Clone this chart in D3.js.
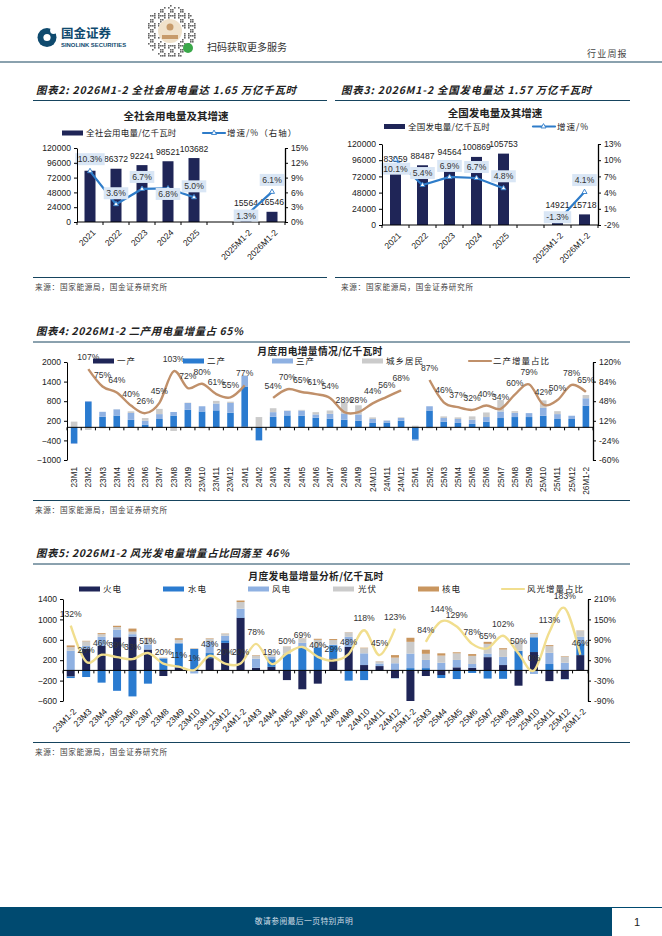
<!DOCTYPE html>
<html><head><meta charset="utf-8">
<script src="https://cdn.jsdelivr.net/npm/d3@7/dist/d3.min.js"></script>
<style>
html,body{margin:0;padding:0;background:#fff}
svg{display:block}
text{font-family:"Liberation Sans",Arial,sans-serif;fill:#222}
.cjk{font-family:"Noto Sans CJK SC","Noto Sans",sans-serif}
</style></head><body><svg id="c" width="662" height="936"></svg>
<script>
// ---- chart 2 / 3 data
const yearCats=["2021","2022","2023","2024","2025","","2025M1-2","2026M1-2"];
const useVals=[83128,86372,92241,98521,103682,null,15564,16546];
const useGrow=[10.3,3.6,6.7,6.8,5.0,null,1.3,6.1];
const genVals=[83959,88487,94564,100869,105753,null,14921,15718];
const genGrow=[10.1,5.4,6.9,6.7,4.8,null,-1.3,4.1];
// ---- chart 4 data
const m4=["23M1","23M2","23M3","23M4","23M5","23M6","23M7","23M8","23M9","23M10","23M11","23M12","24M1","24M2","24M3","24M4","24M5","24M6","24M7","24M8","24M9","24M10","24M11","24M12","25M1","25M2","25M3","25M4","25M5","25M6","25M7","25M8","25M9","25M10","25M11","25M12","26M1-2"];
const primary=[5,5,5,10,10,5,5,10,5,5,10,5,20,5,5,5,5,5,5,5,5,5,5,5,-5,5,5,5,5,5,5,5,5,5,5,5,10];
const secondary=[-480,770,320,350,220,80,250,350,530,480,510,440,1230,-400,320,360,350,290,260,230,200,130,140,200,-370,510,170,130,100,170,280,310,310,350,250,250,650];
const tertiary=[-30,30,150,190,210,120,150,110,210,160,210,300,330,10,140,140,160,100,150,190,190,120,60,80,-30,130,110,120,130,140,200,130,120,240,150,100,230];
const resident=[170,-80,-30,5,50,80,160,-110,10,-30,80,40,10,300,120,10,20,70,100,360,280,50,10,20,50,-30,50,50,100,140,350,50,-20,230,90,-20,100];
const shareSecond=[null,107,75,64,40,26,45,103,72,80,61,55,77,null,54,70,65,61,54,28,28,44,56,68,null,87,46,37,32,40,34,60,79,42,50,78,65];
// ---- chart 5 data
const m5=["23M1-2","23M3","23M4","23M5","23M6","23M7","23M8","23M9","23M10","23M11","23M12","24M1-2","24M3","24M4","24M5","24M6","24M7","24M8","24M9","24M10","24M11","24M12","25M1-2","25M3","25M4","25M5","25M6","25M7","25M8","25M9","25M10","25M11","25M12","26M1-2"];
const thermal=[-120,420,480,650,660,410,-110,60,-10,240,540,1030,50,70,-190,-370,-260,235,460,105,85,-150,-600,-110,-90,60,50,260,105,-300,360,-210,-170,300];
const hydro=[-30,-130,-240,-400,-510,-260,235,470,420,100,50,10,-10,150,320,460,450,260,-200,-190,-10,-5,45,45,-60,-170,-50,-160,-165,380,290,125,-5,230];
const wind=[385,60,180,150,50,100,5,10,-50,220,90,170,180,50,5,80,10,10,200,230,50,140,285,160,150,145,75,70,160,5,-70,220,150,130];
const solar=[70,90,50,50,50,110,5,60,10,60,40,130,60,45,140,85,140,90,85,100,40,110,230,120,140,130,160,190,145,180,70,130,120,120];
const nuclear=[35,10,20,25,60,20,5,30,5,10,5,30,10,5,5,5,20,20,5,10,5,50,80,80,45,20,35,40,25,5,15,20,10,5];
const shareWindSolar=[132,26,46,39,33,51,20,11,1,43,20,20,78,19,50,69,40,29,48,118,45,123,null,84,144,129,78,65,102,50,0,113,183,46];
// ---- ticks
const tickUse=[0,24000,48000,72000,96000,120000];
const tickGrow2=[0,3,6,9,12,15];
const tickGrow3=[-2,1,4,7,10,13];
const tick4L=[-1000,-400,200,800,1400,2000];
const tick4R=[-60,-24,12,48,84,120];
const tick5L=[-600,-200,200,600,1000,1400];
const tick5R=[-90,-30,30,90,150,210];

const NAVY="#1f2557",BLUE="#2a7bd0",LIGHT="#8fb1e2",GRAY="#cbcbcb",TAN="#c9965f";
const TEAL="#0f4a6e",RULE="#16445e";
const svg=d3.select("#c");
const FS=8.6;

function txt(g,x,y,s,o={}){
  const t=g.append("text").attr("x",x).attr("y",y).text(s)
    .attr("class",o.cjk===false?null:"cjk").style("font-size",(o.size||8.5)+"px")
    .style("font-weight",o.bold?"700":"400").attr("text-anchor",o.anchor||"start");
  if(o.italic)t.style("font-style","italic");
  if(o.fill)t.style("fill",o.fill);
  if(o.ls)t.style("letter-spacing",o.ls+"px");
  if(o.len)t.attr("textLength",o.len).attr("lengthAdjust","spacing");
  return t;
}
function rule(x1,x2,y,w=1){svg.append("line").attr("x1",x1).attr("x2",x2).attr("y1",y).attr("y2",y).attr("stroke",RULE).attr("stroke-width",w)}
function fmtAxis(sel){
  sel.selectAll("text").style("font-size",FS+"px").style("font-family",'"Liberation Sans"').style("fill","#222");
  sel.selectAll("line,path").attr("stroke","#000");
}
function leftAxis(x,y,ticks){const g=svg.append("g").attr("transform",`translate(${x},0)`)
  .call(d3.axisLeft(y).tickValues(ticks).tickSize(3).tickSizeOuter(0).tickPadding(3).tickFormat(d3.format("d")));fmtAxis(g);return g}
function rightAxis(x,y,ticks){const g=svg.append("g").attr("transform",`translate(${x},0)`)
  .call(d3.axisRight(y).tickValues(ticks).tickSize(3).tickSizeOuter(0).tickPadding(3).tickFormat(d=>d+"%"));fmtAxis(g);g.select("path").attr("stroke-width",1.3);return g}
function baseline(g,y0,x,n){
  const b=x.step();
  g.append("line").attr("x1",x.range()[0]).attr("x2",x.range()[1]).attr("y1",y0).attr("y2",y0).attr("stroke","#000");
  d3.range(n+1).forEach(i=>g.append("line").attr("x1",x.range()[0]+i*b).attr("x2",x.range()[0]+i*b).attr("y1",y0).attr("y2",y0+3).attr("stroke","#000"));
}
function legRect(g,x,y,c,label,tx,o={}){g.append("rect").attr("x",x).attr("y",y-2.5).attr("width",21).attr("height",5).attr("fill",c);
  txt(g,tx,y+3,label,Object.assign({size:8.5,ls:1},o));}
function legLine(g,x,y,c,label,tx,w=2.2){g.append("line").attr("x1",x).attr("x2",x+22).attr("y1",y).attr("y2",y).attr("stroke",c).attr("stroke-width",w).attr("stroke-linecap","round");
  txt(g,tx,y+3,label,{size:8.5,ls:1});}

// ---- top band
const logo=svg.append("g");
logo.append("circle").attr("cx",47).attr("cy",37.5).attr("r",9.5).attr("fill",TEAL);
logo.append("circle").attr("cx",53.5).attr("cy",30.5).attr("r",3.4).attr("fill","#fff");
logo.append("circle").attr("cx",47).attr("cy",37.5).attr("r",3.6).attr("fill","#fff");
txt(logo,61,38,"国金证券",{size:12.5,bold:true,fill:TEAL});
txt(logo,61,46.5,"SINOLINK SECURITIES",{size:5.9,bold:true,fill:TEAL,cjk:false});
const qr=svg.append("g");
for(let i=-13;i<=13;i++)for(let j=-13;j<=13;j++){
  const r=Math.hypot(i,j); if(r>13||r<6.5)continue;
  if(((i*i*7+j*j*11+i*j*5+i*3+j)%5+5)%5<2)qr.append("rect").attr("x",170+i*2).attr("y",31+j*2).attr("width",1.6).attr("height",1.6).attr("fill","#666");
}
qr.append("circle").attr("cx",170).attr("cy",31).attr("r",12).attr("fill","#f0e2cb");
qr.append("circle").attr("cx",170).attr("cy",27).attr("r",3.5).attr("fill","#c79b6a");
qr.append("rect").attr("x",162).attr("y",35).attr("width",16).attr("height",4).attr("fill","#c79b6a");
qr.append("circle").attr("cx",188).attr("cy",48).attr("r",5).attr("fill","#3aa84a");
txt(svg,207,51,"扫码获取更多服务",{size:10,fill:"#333"});
txt(svg,587,57,"行业周报",{size:9,ls:1.2,fill:"#444"});
rule(0,662,62,1.2);

// ---- headings / rules
const HS=10.4;
txt(svg,36,94,"图表2: 2026M1-2 全社会用电量达 1.65 万亿千瓦时",{size:HS,bold:true,italic:true,len:260});
txt(svg,341,94,"图表3: 2026M1-2 全国发电量达 1.57 万亿千瓦时",{size:HS,bold:true,italic:true,len:250});
txt(svg,36,335,"图表4: 2026M1-2 二产用电量增量占 65%",{size:HS,bold:true,italic:true,len:207});
txt(svg,36,557,"图表5: 2026M1-2 风光发电量增量占比回落至 46%",{size:HS,bold:true,italic:true,len:253});
rule(33,327,100.5);rule(335,630,100.5);rule(33,327,277.5);rule(335,630,277.5);
rule(33,630,342);rule(33,630,500.5);rule(33,630,564);rule(33,630,742.5);
const src="来源：国家能源局，国金证券研究所";
txt(svg,35,290,src,{size:7.6,ls:.7,fill:"#444"});
txt(svg,341,290,src,{size:7.6,ls:.7,fill:"#444"});
txt(svg,35,513,src,{size:7.6,ls:.7,fill:"#444"});
txt(svg,35,755,src,{size:7.6,ls:.7,fill:"#444"});

// ---- chart 2 & 3
function barLine(o){
  const g=svg.append("g");
  const step=(o.xr[1]-o.xr[0])/o.cats.length;
  const x=d3.scaleBand().domain(d3.range(o.cats.length)).range(o.xr);
  const xc=i=>x(i)+x.step()/2;
  const y=d3.scaleLinear().domain([0,120000]).range(o.yr);
  const yR=d3.scaleLinear().domain(o.rd).range(o.yr);
  g.selectAll("rect.b").data(o.vals.map((v,i)=>[v,i]).filter(d=>d[0]!=null)).join("rect")
   .attr("x",d=>xc(d[1])-5.5).attr("width",11).attr("y",d=>y(d[0])).attr("height",d=>y(0)-y(d[0])).attr("fill",NAVY);
  o.vals.forEach((v,i)=>{if(v!=null&&!(o.covered||[]).includes(i))g.append("text").attr("x",xc(i)).attr("y",y(v)-6.5).attr("text-anchor","middle").style("font-size",FS+"px").text(v)});
  baseline(g,o.yr[0],{step:()=>step,range:()=>o.xr},o.cats.length);
  leftAxis(o.xr[0],y,tickUse);
  rightAxis(o.xr[1],yR,o.rt);
  o.cats.forEach((c,i)=>{if(c)g.append("text").attr("transform",`translate(${xc(i)+3},${o.yr[0]+8}) rotate(-45)`).attr("text-anchor","end").attr("dy","0.5em").style("font-size",FS+"px").text(c)});
  const line=d3.line().defined(d=>d[0]!=null).x(d=>xc(d[1])).y(d=>yR(d[0]));
  g.append("path").attr("d",line(o.grow.map((v,i)=>[v,i]))).attr("fill","none").attr("stroke","#2e7cc9").attr("stroke-width",2.2);
  o.grow.forEach((v,i)=>{if(v==null)return;
    g.append("path").attr("d",d3.symbol(d3.symbolTriangle,11)()).attr("transform",`translate(${xc(i)},${yR(v)})`).attr("fill","#fff").attr("stroke","#2e7cc9").attr("stroke-width",.9);});
  o.grow.forEach((v,i)=>{if(v==null)return;
    const d=o.dy[i], cy=yR(v)+d;
    const r=g.append("rect").attr("fill","#d9e6f5");
    const t=g.append("text").attr("x",xc(i)).attr("y",cy+3).attr("text-anchor","middle").style("font-size",FS+"px").style("fill","#333").text(v.toFixed(1)+"%");
    const w=t.node().getComputedTextLength()+5;
    r.attr("x",xc(i)-w/2).attr("y",cy-6).attr("width",w).attr("height",12);
  });
}
barLine({cats:yearCats,vals:useVals,grow:useGrow,xr:[77,285],yr:[222,148],rd:[0,15],rt:tickGrow2,dy:[-12,-11,-12,5.5,-11,0,0,-12],covered:[0]});
barLine({cats:yearCats,vals:genVals,grow:genGrow,xr:[382,598],yr:[225,144],rd:[-2,13],rt:tickGrow3,dy:[9,-12,-11,-11,-12,0,-4,-12]});
txt(svg,176,120,"全社会用电量及其增速",{size:10.5,bold:true,anchor:"middle"});
txt(svg,495,117,"全国发电量及其增速",{size:10.5,bold:true,anchor:"middle"});
const l2=svg.append("g");
legRect(l2,62,133,NAVY,"全社会用电量/亿千瓦时",86,{ls:.2});
legLine(l2,203,133,"#2e7cc9","增速/%（右轴）",227);
const l3=svg.append("g");
legRect(l3,384,126.5,NAVY,"全国发电量/亿千瓦时",408,{ls:.2});
legLine(l3,533,126.5,"#2e7cc9","增速/%",557);
[[214,133],[543.5,126.5]].forEach(p=>svg.append("path").attr("d",d3.symbol(d3.symbolTriangle,11)()).attr("transform",`translate(${p[0]},${p[1]})`).attr("fill","#fff").attr("stroke","#2e7cc9").attr("stroke-width",.9));

// ---- stacked + smooth line charts
function stacked(o){
  const g=svg.append("g");
  const rows=o.cats.map((cat,i)=>{const r={cat};o.keys.forEach((k,j)=>r[k]=o.series[j][i]);return r});
  const st=d3.stack().keys(o.keys).offset(d3.stackOffsetDiverging)(rows);
  const x=d3.scaleBand().domain(o.cats).range(o.xr);
  const y=d3.scaleLinear().domain(o.ld).range(o.yr);
  const yR=d3.scaleLinear().domain(o.rd).range(o.yr);
  st.forEach((s,j)=>{
    g.selectAll(null).data(s).join("rect")
     .attr("x",d=>x(d.data.cat)+(x.step()-o.bw)/2).attr("width",o.bw)
     .attr("y",d=>y(d[1])).attr("height",d=>Math.abs(y(d[0])-y(d[1]))).attr("fill",o.colors[j]);
  });
  baseline(g,y(0),{step:()=>x.step(),range:()=>o.xr},o.cats.length);
  leftAxis(o.xr[0],y,o.lt);
  rightAxis(o.xr[1],yR,o.rt);
  const cx=i=>x(o.cats[i])+x.step()/2;
  const line=d3.line().defined(d=>d[0]!=null).x(d=>cx(d[1])).y(d=>yR(d[0])).curve(d3.curveCardinal.tension(0));
  g.append("path").attr("d",line(o.share.map((v,i)=>[v,i]))).attr("fill","none").attr("stroke",o.lineColor).attr("stroke-width",2.4);
  o.share.forEach((v,i)=>{if(v==null)return;
    g.append("text").attr("x",cx(i)).attr("y",yR(v)-9).attr("text-anchor","middle").style("font-size",FS+"px").style("fill","#333").text(v+"%");});
  o.cats.forEach((c,i)=>{
    if(o.rot===-90) g.append("text").attr("transform",`translate(${cx(i)+3},${o.yr[0]+7}) rotate(-90)`).attr("text-anchor","end").style("font-size","8.2px").text(c);
    else g.append("text").attr("transform",`translate(${cx(i)+3},${o.yr[0]+8}) rotate(-45)`).attr("text-anchor","end").attr("dy","0.5em").style("font-size",FS+"px").text(c);
  });
}
stacked({cats:m4,keys:["k0","k1","k2","k3"],series:[primary,secondary,tertiary,resident],colors:[NAVY,BLUE,LIGHT,GRAY],
  xr:[67,593],yr:[460,362],ld:[-1000,2000],rd:[-60,120],lt:tick4L,rt:tick4R,bw:6.6,share:shareSecond,lineColor:"#c0906a",rot:-90});
stacked({cats:m5,keys:["k0","k1","k2","k3","k4"],series:[thermal,hydro,wind,solar,nuclear],colors:[NAVY,BLUE,LIGHT,GRAY,TAN],
  xr:[63,588],yr:[701,599],ld:[-600,1400],rd:[-90,210],lt:tick5L,rt:tick5R,bw:8,share:shareWindSolar,lineColor:"#f1de8e",rot:-45});
txt(svg,320,354.5,"月度用电增量情况/亿千瓦时",{size:9.8,bold:true,anchor:"middle",ls:.3});
txt(svg,316,580,"月度发电量增量分析/亿千瓦时",{size:9.8,bold:true,anchor:"middle",ls:.3});
const l4=svg.append("g");
legRect(l4,93,361,NAVY,"一产",117);legRect(l4,183,361,BLUE,"二产",207);legRect(l4,272,361,LIGHT,"三产",296);
legRect(l4,362,361,GRAY,"城乡居民",386);legLine(l4,469,361,"#c0906a","二产增量占比",493);
const l5=svg.append("g");
legRect(l5,79,589,NAVY,"火电",103);legRect(l5,163,589,BLUE,"水电",188);legRect(l5,248,589,LIGHT,"风电",272);
legRect(l5,333,589,GRAY,"光伏",358);legRect(l5,418,589,TAN,"核电",442);legLine(l5,502,589,"#f1de8e","风光增量占比",527);

// ---- footer
svg.append("rect").attr("x",0).attr("y",907).attr("width",612).attr("height",29).attr("fill","#004a70");
svg.append("line").attr("x1",612).attr("x2",662).attr("y1",907.5).attr("y2",907.5).attr("stroke","#004a70");
txt(svg,304,924,"敬请参阅最后一页特别声明",{size:7.8,anchor:"middle",ls:.4,fill:"#cfdde6"});
svg.append("text").attr("x",637).attr("y",926).attr("text-anchor","middle").style("font-size","11px").text("1");
</script></body></html>
